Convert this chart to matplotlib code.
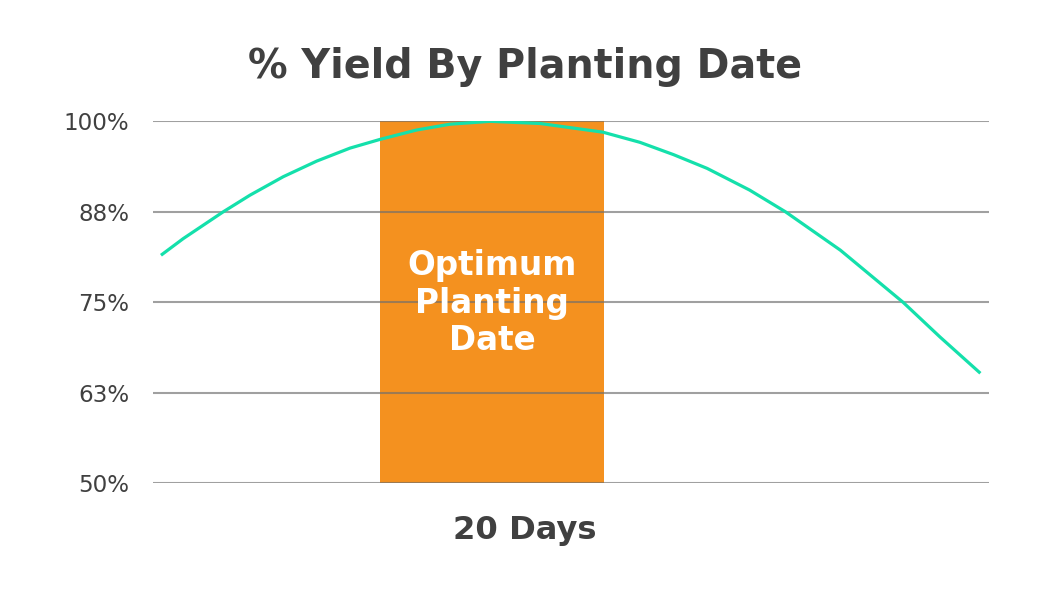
import matplotlib
matplotlib.use("Agg")
import matplotlib.pyplot as plt

# ---- data ----
days = [0.74, 2.73, 6.30, 8.69, 11.66, 14.64, 17.62, 20.29, 23.57, 26.54, 30.12,
        34.6, 40.2, 43.5, 46.5, 49.5, 53.3, 56.5, 61.4, 67.0, 70.3, 73.9]
yield_pct = [81.5, 83.8, 87.5, 89.8, 92.35, 94.5, 96.3, 97.5, 98.8, 99.6, 100.0,
             99.7, 98.5, 97.1, 95.4, 93.5, 90.5, 87.5, 82.2, 75.0, 70.2, 65.2]
window_start = 20.3
window_days = 20
ytick_vals = [50, 62.5, 75, 87.5, 100]
ytick_labels = ["50%", "63%", "75%", "88%", "100%"]
title = "% Yield By Planting Date"
xlabel = "20 Days"
bar_label = "Optimum\nPlanting\nDate"

TEXT = "#404040"
ORANGE = "#F4911F"
TEAL = "#14E0AB"

plt.rcParams['font.family'] = ['DejaVu Sans']

fig = plt.figure(figsize=(10.5, 6), dpi=100)
ax = fig.add_axes([0.1454, 0.1945, 0.7962, 0.6033])

ax.bar([window_start], [100 - 50], bottom=50, width=window_days, align='edge',
       color=ORANGE, zorder=1, linewidth=0)
ax.hlines(ytick_vals, 0, 74.64, colors="#6e6e6e", alpha=0.65, lw=1.5, zorder=2.5)
ax.plot(days, yield_pct, color=TEAL, lw=2.3, zorder=3, solid_capstyle='butt',
        solid_joinstyle='round')

ax.text(window_start + window_days / 2, 82.3, bar_label, ha='center', va='top',
        color='white', fontsize=23.5, fontweight='bold', linespacing=1.17, zorder=4)

ax.set_xlim(0, 74.64)
ax.set_ylim(50, 100)
ax.set_yticks(ytick_vals)
ax.set_yticklabels(ytick_labels)
ax.set_xticks([])
ax.tick_params(axis='y', length=0, pad=17, labelsize=16.6, labelcolor=TEXT)
for s in ax.spines.values():
    s.set_visible(False)

fig.text(0.5, 1 - 67 / 600, title, ha='center', va='center', fontsize=28.5,
         fontweight='bold', color=TEXT)
fig.text(0.5, 1 - 531 / 600, xlabel, ha='center', va='center', fontsize=23.2,
         fontweight='bold', color=TEXT)

fig.savefig("out.png", dpi=100, facecolor='white')
